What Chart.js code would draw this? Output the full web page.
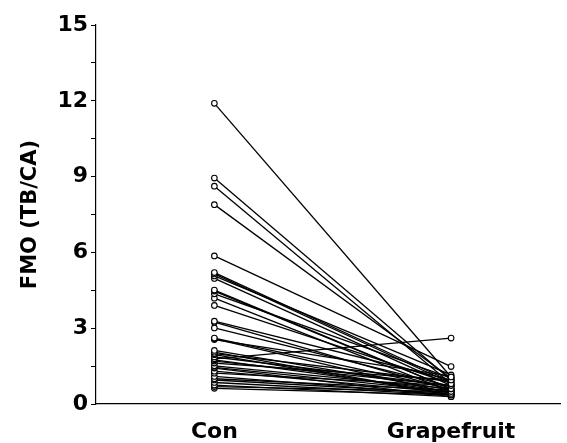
<!DOCTYPE html>
<html>
<head>
<meta charset="utf-8">
<script src="https://cdn.jsdelivr.net/npm/chart.js@4/dist/chart.umd.min.js"></script>
<style>
  html, body { margin: 0; padding: 0; background: #fff; }
  #wrap { width: 567px; height: 443px; }
</style>
</head>
<body>
<div id="wrap"><canvas id="fmo"></canvas></div>
<script>
// groups on the x axis
var groups = ['Con', 'Grapefruit'];

// FMO per subject, control period
var conValues = [11.9, 8.94, 8.62, 7.89, 5.86, 5.2, 5.15, 5.07, 4.97, 4.51, 4.47, 4.36, 4.19, 3.9, 3.28, 3.24, 3.01,
                 2.61, 2.58, 2.55, 2.12, 2.05, 1.99, 1.95, 1.86, 1.79, 1.75, 1.7, 1.62, 1.51, 1.45, 1.42, 1.3, 1.22,
                 1.09, 1.0, 0.95, 0.85, 0.75, 0.69, 0.62];

// FMO per subject, after grapefruit (same order)
var grapefruitValues = [1.07, 0.95, 0.8, 1.02, 1.48, 0.89, 0.82, 1.15, 0.73, 0.6, 0.6, 1.02, 0.49, 0.82, 0.95, 0.55, 0.7,
                        0.6, 0.42, 1.1, 0.55, 0.36, 0.89, 0.36, 0.73, 2.61, 0.49, 0.73, 0.95, 0.6, 0.49, 0.29, 0.45, 0.73,
                        0.36, 0.55, 0.42, 0.36, 0.29, 0.49, 0.36];

var yTicks = [0, 3, 6, 9, 12, 15];

var datasets = conValues.map(function (c, i) {
    return {
        data: [{x: 0, y: c}, {x: 1, y: grapefruitValues[i]}],
        borderColor: '#000',
        borderWidth: 1.3,
        pointRadius: 2.8,
        pointBackgroundColor: '#fff',
        pointBorderColor: '#000',
        pointBorderWidth: 1.1,
        fill: false
    };
});

var ctx = document.getElementById('fmo').getContext('2d');
var chart = new Chart(ctx, {
    type: 'line',
    data: { datasets: datasets },
    options: {
        responsive: true,
        maintainAspectRatio: false,
        animation: false,
        layout: { padding: { top: 25, right: 7, left: 0, bottom: 0 } },
        plugins: { legend: { display: false }, tooltip: { enabled: false } },
        scales: {
            x: {
                type: 'linear',
                min: -0.5,
                max: 1.46,
                afterBuildTicks: function (scale) {
                    scale.ticks = groups.map(function (g, i) { return { value: i }; });
                },
                afterFit: function (scale) { scale.height = 39; },
                grid: { display: false },
                border: { display: true, color: '#000', width: 1.2 },
                ticks: {
                    padding: 7,
                    color: '#000',
                    font: { family: 'DejaVu Sans', size: 22, weight: 'bold' },
                    callback: function (v) { return groups[v]; }
                }
            },
            y: {
                min: 0,
                max: 15,
                afterFit: function (scale) { scale.width = 96; },
                grid: { drawOnChartArea: false, drawTicks: true, tickLength: 5, color: '#000' },
                border: { display: true, color: '#000', width: 1.2 },
                ticks: {
                    stepSize: 1.5,
                    padding: 3,
                    color: '#000',
                    font: { family: 'DejaVu Sans', size: 22, weight: 'bold' },
                    callback: function (v) { return yTicks.indexOf(v) >= 0 ? v : ''; }
                },
                title: {
                    display: true,
                    text: 'FMO (TB/CA)',
                    color: '#000',
                    padding: { top: 18, bottom: 4 },
                    font: { family: 'DejaVu Sans', size: 21, weight: 'bold' }
                }
            }
        }
    }
});
</script>
</body>
</html>
